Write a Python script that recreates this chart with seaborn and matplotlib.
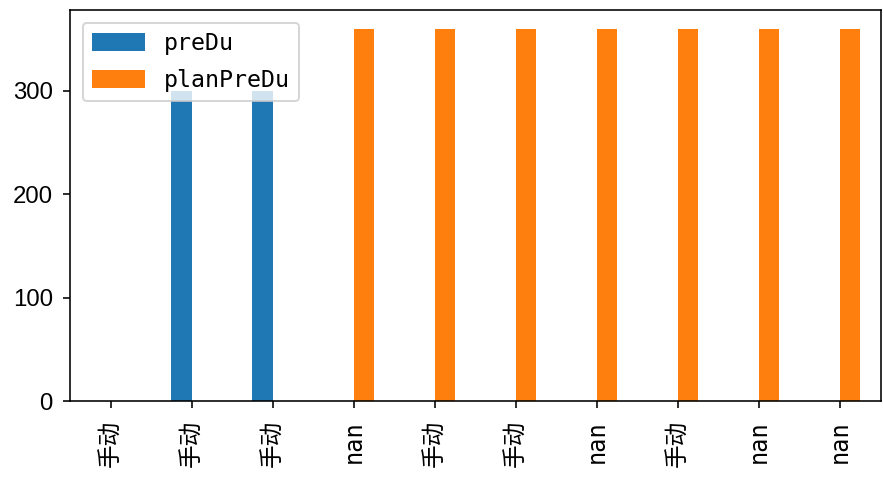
import matplotlib
matplotlib.use('Agg')
import matplotlib.pyplot as plt
import seaborn as sns
import pandas as pd
import numpy as np

plt.rcParams['font.family'] = ['DejaVu Sans Mono', 'Noto Sans CJK SC']
plt.rcParams['font.size'] = 11
plt.rcParams['axes.unicode_minus'] = False

labels = ['手动', '手动', '手动', 'nan', '手动', '手动', 'nan', '手动', 'nan', 'nan']
preDu = [np.nan, 300, 300, np.nan, np.nan, np.nan, np.nan, np.nan, np.nan, np.nan]
planPreDu = [np.nan, np.nan, np.nan, 360, 360, 360, 360, 360, 360, 360]
series = ['preDu', 'planPreDu']
yticks = [0, 100, 200, 300]

df = pd.DataFrame({'pos': list(range(len(labels))) * 2,
                   'value': preDu + planPreDu,
                   'series': ['preDu'] * len(labels) + ['planPreDu'] * len(labels)})

fig = plt.figure(figsize=(883 / 144, 477 / 144), dpi=144)
ax = fig.add_axes([70 / 883, 1 - 401 / 477, 810.5 / 883, 391 / 477])
sns.barplot(data=df, x='pos', y='value', hue='series', hue_order=series,
            order=list(range(len(labels))), width=0.5, gap=0,
            palette=['#1f77b4', '#ff7f0e'], saturation=1, ax=ax)
ax.set_xticks(range(len(labels)))
ax.set_xticklabels(labels, rotation=90, fontsize=11.8)
ax.tick_params(axis='x', pad=6)
ax.tick_params(axis='y', pad=5)
ax.set_xlim(-0.5, len(labels) - 0.5)
ax.set_ylim(0, 378)
ax.set_yticks(yticks)
ax.set_yticklabels([str(t) for t in yticks], family='Liberation Sans', fontsize=12)
ax.set_xlabel('')
ax.set_ylabel('')
handles, names = ax.get_legend_handles_labels()
ax.legend(handles, names, loc='upper left', fontsize=11.6, handlelength=2.3,
          handleheight=0.8, labelspacing=0.6, borderaxespad=0.55)

fig.savefig('out.png', dpi=144)
